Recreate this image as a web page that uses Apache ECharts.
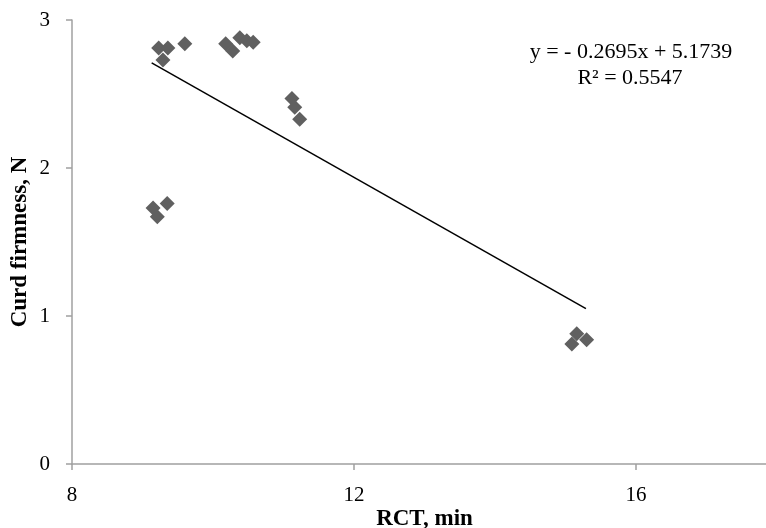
<!DOCTYPE html>
<html>
<head>
<meta charset="utf-8">
<script src="https://cdn.jsdelivr.net/npm/echarts@6/dist/echarts.min.js"></script>
<style>
  html, body { margin: 0; padding: 0; background: #fff; }
  #main { width: 766px; height: 528px; }
</style>
</head>
<body>
<div id="main"></div>
<script>
// 数据 (RCT, min / Curd firmness, N)
var rctValues = [9.23, 9.36, 9.29, 9.60, 10.18, 10.28, 10.38, 10.48, 10.57,
  11.12, 11.16, 11.23, 9.15, 9.35, 9.21, 15.16, 15.30, 15.09];
var firmnessValues = [2.81, 2.81, 2.73, 2.84, 2.84, 2.79, 2.88, 2.86, 2.85,
  2.47, 2.41, 2.33, 1.73, 1.76, 1.67, 0.88, 0.84, 0.81];
// 趋势线两端
var trendX = [9.13, 15.29];
var trendY = [2.71, 1.05];
var xTicks = [8, 12, 16];
var yTicks = [0, 1, 2, 3];
var eqText = 'y = - 0.2695x + 5.1739';
var r2Text = 'R² = 0.5547';

var points = [];
for (var i = 0; i < rctValues.length; i++) {
  points.push([rctValues[i], firmnessValues[i]]);
}
var trend = [];
for (var j = 0; j < trendX.length; j++) {
  trend.push([trendX[j], trendY[j]]);
}

var font = 'Liberation Serif';
var myChart = echarts.init(document.getElementById('main'));

var option = {
  animation: false,
  backgroundColor: '#fff',
  grid: { left: 72, top: 20, bottom: 64, right: -11, outerBoundsMode: 'none', containLabel: false },
  xAxis: {
    type: 'value',
    min: 8, max: 18, interval: 4,
    name: 'RCT, min',
    nameLocation: 'middle',
    nameGap: 44,
    nameMoveOverlap: false,
    nameTextStyle: { fontFamily: font, fontWeight: 'bold', fontSize: 23, color: '#000' },
    axisLine: { show: true, lineStyle: { color: '#a0a0a0', width: 1.5 } },
    axisTick: { show: true, inside: false, length: 6, lineStyle: { color: '#a0a0a0', width: 1.5 } },
    axisLabel: {
      fontFamily: font, fontSize: 21, color: '#000', margin: 21,
      showMaxLabel: false,
      formatter: function (v) { return xTicks.indexOf(v) >= 0 ? v : ''; }
    },
    splitLine: { show: false }
  },
  yAxis: {
    type: 'value',
    min: 0, max: 3, interval: 1,
    name: 'Curd firmness, N',
    nameLocation: 'middle',
    nameGap: 40,
    nameMoveOverlap: false,
    nameTextStyle: { fontFamily: font, fontWeight: 'bold', fontSize: 23, color: '#000' },
    axisLine: { show: true, lineStyle: { color: '#a0a0a0', width: 1.5 } },
    axisTick: { show: true, inside: false, length: 6, lineStyle: { color: '#a0a0a0', width: 1.5 } },
    axisLabel: {
      fontFamily: font, fontSize: 21, color: '#000', margin: 22,
      formatter: function (v) { return yTicks.indexOf(v) >= 0 ? v : ''; }
    },
    splitLine: { show: false }
  },
  graphic: [
    {
      type: 'text', x: 631, y: 52,
      style: { text: eqText, font: '22px ' + font, fill: '#000', align: 'center', verticalAlign: 'middle' }
    },
    {
      type: 'text', x: 630, y: 78,
      style: { text: r2Text, font: '22px ' + font, fill: '#000', align: 'center', verticalAlign: 'middle' }
    }
  ],
  series: [
    {
      name: 'trend',
      type: 'line',
      data: trend,
      symbol: 'none',
      lineStyle: { color: '#000', width: 1.5 },
      z: 1
    },
    {
      name: 'firmness',
      type: 'scatter',
      data: points,
      symbol: 'diamond',
      symbolSize: [15, 15],
      itemStyle: { color: '#606060', opacity: 1 },
      z: 2
    }
  ]
};

myChart.setOption(option);
</script>
</body>
</html>
